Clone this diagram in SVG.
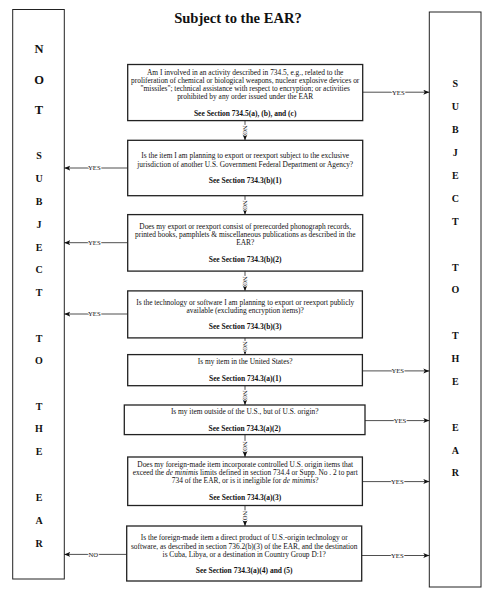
<svg xmlns="http://www.w3.org/2000/svg" width="495" height="596" viewBox="0 0 495 596">
<defs>
<style>
.bg{fill:#fff}
.panel{fill:none;stroke:#222;stroke-width:1}
.box{fill:#fff;stroke:#222;stroke-width:1.3}
.t{font-family:"Liberation Serif","Times New Roman",serif;font-size:7.4px;fill:#111;text-anchor:middle}
.s{font-family:"Liberation Serif","Times New Roman",serif;font-size:7.5px;font-weight:bold;fill:#111;text-anchor:middle}
.big{font-family:"Liberation Serif","Times New Roman",serif;font-size:12.5px;font-weight:bold;fill:#111;text-anchor:middle}
.let{font-family:"Liberation Serif","Times New Roman",serif;font-size:10px;font-weight:bold;fill:#111;text-anchor:middle}
.title{font-family:"Liberation Serif","Times New Roman",serif;font-size:14.6px;font-weight:bold;fill:#111;text-anchor:middle}
.c{fill:none;stroke:#222;stroke-width:0.8}
.lab{font-family:"Liberation Serif","Times New Roman",serif;font-size:6.7px;fill:#111;text-anchor:middle;stroke:#fff;stroke-width:2;paint-order:stroke}
</style>
<marker id="ah" markerUnits="userSpaceOnUse" markerWidth="7" markerHeight="6" refX="6" refY="2.5" orient="auto">
<path d="M0,0 L6,2.5 L0,5 L1.5,2.5 z" fill="#111"/>
</marker>
</defs>
<rect class="bg" x="0" y="0" width="495" height="596"/>
<text class="title" x="238" y="23">Subject to the EAR?</text>

<g id="not-subject">
<rect class="panel" x="12.7" y="9.5" width="51.6" height="569.5"/>
<text class="big" x="39" y="53">N</text>
<text class="big" x="39" y="83.5">O</text>
<text class="big" x="39" y="113.5">T</text>
<text class="let" x="39" y="158.5">S</text>
<text class="let" x="39" y="182">U</text>
<text class="let" x="39" y="205">B</text>
<text class="let" x="39" y="227.5">J</text>
<text class="let" x="39" y="250.5">E</text>
<text class="let" x="39" y="273">C</text>
<text class="let" x="39" y="296">T</text>
<text class="let" x="39" y="341.5">T</text>
<text class="let" x="39" y="364">O</text>
<text class="let" x="39" y="409.5">T</text>
<text class="let" x="39" y="432">H</text>
<text class="let" x="39" y="455">E</text>
<text class="let" x="39" y="500.5">E</text>
<text class="let" x="39" y="524">A</text>
<text class="let" x="39" y="547">R</text>
</g>

<g id="subject">
<rect class="panel" x="429.3" y="12" width="51.7" height="575"/>
<text class="let" x="455.3" y="86.5">S</text>
<text class="let" x="455.3" y="110">U</text>
<text class="let" x="455.3" y="132.7">B</text>
<text class="let" x="455.3" y="156">J</text>
<text class="let" x="455.3" y="179">E</text>
<text class="let" x="455.3" y="202">C</text>
<text class="let" x="455.3" y="224.5">T</text>
<text class="let" x="455.3" y="270.5">T</text>
<text class="let" x="455.3" y="293">O</text>
<text class="let" x="455.3" y="339">T</text>
<text class="let" x="455.3" y="362">H</text>
<text class="let" x="455.3" y="384.5">E</text>
<text class="let" x="455.3" y="430.5">E</text>
<text class="let" x="455.3" y="453.5">A</text>
<text class="let" x="455.3" y="476">R</text>
</g>

<g id="connectors">
<line class="c" x1="362.7" y1="92.2" x2="429.3" y2="92.2" marker-end="url(#ah)"/>
<line class="c" x1="127.7" y1="168" x2="64.3" y2="168" marker-end="url(#ah)"/>
<line class="c" x1="127.7" y1="242.7" x2="64.3" y2="242.7" marker-end="url(#ah)"/>
<line class="c" x1="127.7" y1="314" x2="64.3" y2="314" marker-end="url(#ah)"/>
<line class="c" x1="362.7" y1="370.9" x2="429.3" y2="370.9" marker-end="url(#ah)"/>
<line class="c" x1="365" y1="420.6" x2="429.3" y2="420.6" marker-end="url(#ah)"/>
<line class="c" x1="362.7" y1="481.6" x2="429.3" y2="481.6" marker-end="url(#ah)"/>
<line class="c" x1="361.7" y1="555.5" x2="429.3" y2="555.5" marker-end="url(#ah)"/>
<line class="c" x1="126.7" y1="554.4" x2="64.3" y2="554.4" marker-end="url(#ah)"/>
<line class="c" x1="245" y1="120.6" x2="245" y2="140.3" marker-end="url(#ah)"/>
<line class="c" x1="245" y1="195.7" x2="245" y2="214.6" marker-end="url(#ah)"/>
<line class="c" x1="245" y1="271.1" x2="245" y2="290.9" marker-end="url(#ah)"/>
<line class="c" x1="245" y1="337.9" x2="245" y2="354.6" marker-end="url(#ah)"/>
<line class="c" x1="245" y1="385.7" x2="245" y2="405" marker-end="url(#ah)"/>
<line class="c" x1="245" y1="434.6" x2="245" y2="457" marker-end="url(#ah)"/>
<line class="c" x1="245" y1="505.5" x2="245" y2="526" marker-end="url(#ah)"/>
<text class="lab" x="398.3" y="94.6">YES</text>
<text class="lab" x="94.3" y="170.4">YES</text>
<text class="lab" x="94.3" y="245.1">YES</text>
<text class="lab" x="94.3" y="316.4">YES</text>
<text class="lab" x="397.7" y="373.3">YES</text>
<text class="lab" x="400" y="423">YES</text>
<text class="lab" x="397.3" y="484">YES</text>
<text class="lab" x="397.3" y="557.9">YES</text>
<text class="lab" x="93.3" y="556.8">NO</text>
<text class="lab" transform="translate(242.6,130) rotate(90)">NO</text>
<text class="lab" transform="translate(242.6,205) rotate(90)">NO</text>
<text class="lab" transform="translate(242.6,281) rotate(90)">NO</text>
<text class="lab" transform="translate(242.6,346) rotate(90)">NO</text>
<text class="lab" transform="translate(242.6,395) rotate(90)">NO</text>
<text class="lab" transform="translate(242.6,446) rotate(90)">NO</text>
<text class="lab" transform="translate(242.6,515.5) rotate(90)">NO</text>
</g>

<g id="q1">
<rect class="box" x="127.7" y="64.5" width="235" height="56.1"/>
<text class="t" x="245.2" y="74.5">Am I involved in an activity described in 734.5, e.g.,  related to the</text>
<text class="t" x="245.2" y="83">proliferation of chemical or biological weapons,  nuclear explosive devices or</text>
<text class="t" x="245.2" y="91">"missiles"; technical assistance with respect to encryption; or activities</text>
<text class="t" x="245.2" y="99">prohibited by any order issued under the EAR</text>
<text class="s" x="245.2" y="116">See Section 734.5(a), (b), and (c)</text>
</g>

<g id="q2">
<rect class="box" x="127.7" y="140.3" width="235" height="55.4"/>
<text class="t" x="245.2" y="158">Is the item I am planning to export or reexport subject to the exclusive</text>
<text class="t" x="245.2" y="166.7">jurisdiction of another U.S. Government Federal Department or Agency?</text>
<text class="s" x="245.2" y="183.4">See Section 734.3(b)(1)</text>
</g>

<g id="q3">
<rect class="box" x="127.7" y="214.6" width="235" height="56.5"/>
<text class="t" x="245.2" y="229">Does my export or reexport consist of prerecorded phonograph records,</text>
<text class="t" x="245.2" y="237">printed books, pamphlets &amp; miscellaneous publications as described in the</text>
<text class="t" x="245.2" y="245">EAR?</text>
<text class="s" x="245.2" y="262.3">See Section 734.3(b)(2)</text>
</g>

<g id="q4">
<rect class="box" x="127.7" y="290.9" width="234.7" height="47"/>
<text class="t" x="245.2" y="304.7">Is the technology or software I am planning to export or reexport publicly</text>
<text class="t" x="245.2" y="312.7">available (excluding encryption items)?</text>
<text class="s" x="245.2" y="329.4">See Section 734.3(b)(3)</text>
</g>

<g id="q5">
<rect class="box" x="127.7" y="354.6" width="234.7" height="31.1"/>
<text class="t" x="245.2" y="364">Is my item in the United States?</text>
<text class="s" x="245.2" y="381">See Section 734.3(a)(1)</text>
</g>

<g id="q6">
<rect class="box" x="124.3" y="405" width="240.7" height="29.6"/>
<text class="t" x="244.7" y="414.3">Is my item outside of the U.S., but of U.S. origin?</text>
<text class="s" x="244.7" y="431">See Section 734.3(a)(2)</text>
</g>

<g id="q7">
<rect class="box" x="127.7" y="457" width="234.7" height="48.5"/>
<text class="t" x="245.2" y="466.7">Does my foreign-made item incorporate controlled U.S. origin items that</text>
<text class="t" x="245.2" y="475">exceed the <tspan font-style="italic">de minimis</tspan> limits defined in section 734.4 or Supp. No . 2 to part</text>
<text class="t" x="245.2" y="483.4">734 of the EAR, or is it ineligible for <tspan font-style="italic">de minimis</tspan>?</text>
<text class="s" x="245.2" y="500">See Section 734.3(a)(3)</text>
</g>

<g id="q8">
<rect class="box" x="126.7" y="526" width="235" height="55"/>
<text class="t" x="244.2" y="540.2">Is the foreign-made item a direct product of U.S.-origin technology or</text>
<text class="t" x="244.2" y="548.5">software, as described in section 736.2(b)(3) of the EAR, and the destination</text>
<text class="t" x="244.2" y="557">is Cuba, Libya, or a destination in Country Group D:1?</text>
<text class="s" x="244.2" y="573.2">See Section 734.3(a)(4) and (5)</text>
</g>
</svg>
